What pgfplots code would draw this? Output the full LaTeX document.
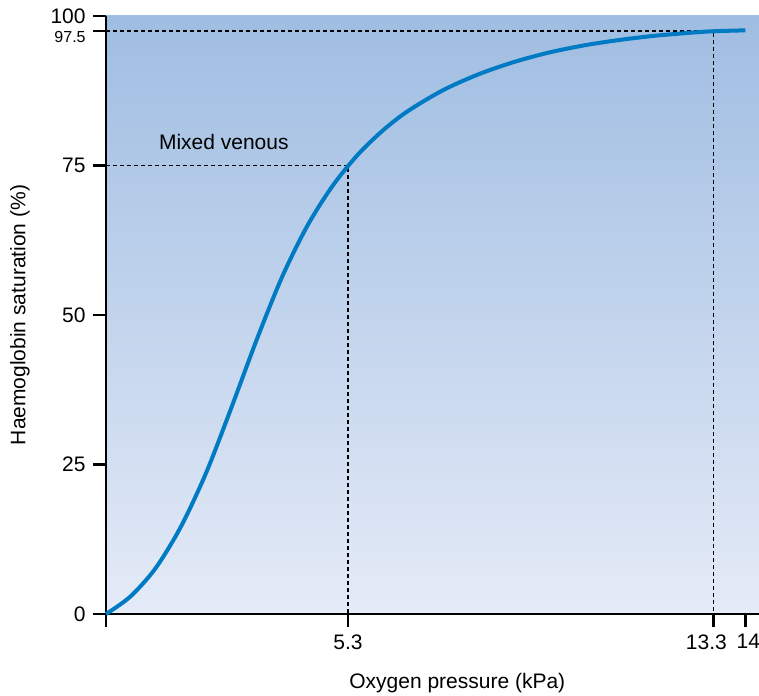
\documentclass[border=0pt]{standalone}
\usepackage{pgfplots}
\pgfplotsset{compat=1.18}
\usepackage{fontspec}
\setmainfont{Liberation Sans}
\definecolor{curveblue}{RGB}{0,122,195}
\definecolor{bgtop}{RGB}{159,189,226}
\definecolor{bgbot}{RGB}{229,235,247}
\begin{document}
\fontsize{10.5}{12.6}\selectfont
\begin{tikzpicture}
\begin{axis}[
  at={(0,0)}, anchor=south west,
  scale only axis, width=326.5pt, height=299pt,
  xmin=0, xmax=14.3, ymin=0, ymax=100,
  axis lines*=left,
  axis line style={black, line width=1.2pt},
  axis background/.style={shade, top color=bgtop, bottom color=bgbot},
  tick align=outside,
  major tick length=6.5pt,
  tick style={black, line width=1.2pt},
  xtick={0,5.3,13.3,14},
  xticklabels={,5.3,{\hspace*{-7pt}13.3},{\hspace*{3pt}14}},
  ytick={0,25,50,75,100},
  yticklabels={0,25,50,75,100},
  extra y ticks={97.5},
  extra y tick labels={97.5},
  extra y tick style={yticklabel style={yshift=-3pt, font=\fontsize{8}{9}\selectfont}},
  ticklabel style={font=\fontsize{10.5}{12.6}\selectfont},
  xlabel={Oxygen pressure (kPa)},
  ylabel={Haemoglobin saturation (\%)},
  label style={font=\fontsize{10.5}{12.6}\selectfont},
  xlabel style={at={(axis description cs:0.538,-0.1154)}, anchor=center},
  ylabel style={at={(axis description cs:-0.1317,0.5)}, anchor=center},
  clip=false,
]
\addplot[black, line width=0.6pt, dash pattern=on 2pt off 1.5pt] coordinates {(0,75) (5.3,75) (5.3,0)};
\addplot[black, line width=0.6pt, dash pattern=on 2pt off 1.5pt] coordinates {(0,97.5) (13.3,97.5) (13.3,0)};
\addplot[curveblue, line width=2pt, smooth] table {
x y
0 0
0.531 2.9
1.083 7.63
1.636 14.54
2.189 23.54
2.742 34.43
3.294 45.74
3.847 56.21
4.400 64.79
4.952 71.49
5.505 76.73
6.058 80.83
6.611 84.10
7.384 87.61
8.158 90.25
8.932 92.30
9.706 93.90
10.480 95.10
11.253 96.00
12.027 96.70
12.801 97.20
13.3 97.45
14.0 97.6
};
\node[anchor=west, font=\fontsize{10.5}{12.6}\selectfont] at (axis cs:1.0,79) {Mixed venous};
\end{axis}
\pgfresetboundingbox
\path[use as bounding box] (-53pt,-40.5pt) rectangle (326.5pt,307pt);
\end{tikzpicture}
\end{document}
